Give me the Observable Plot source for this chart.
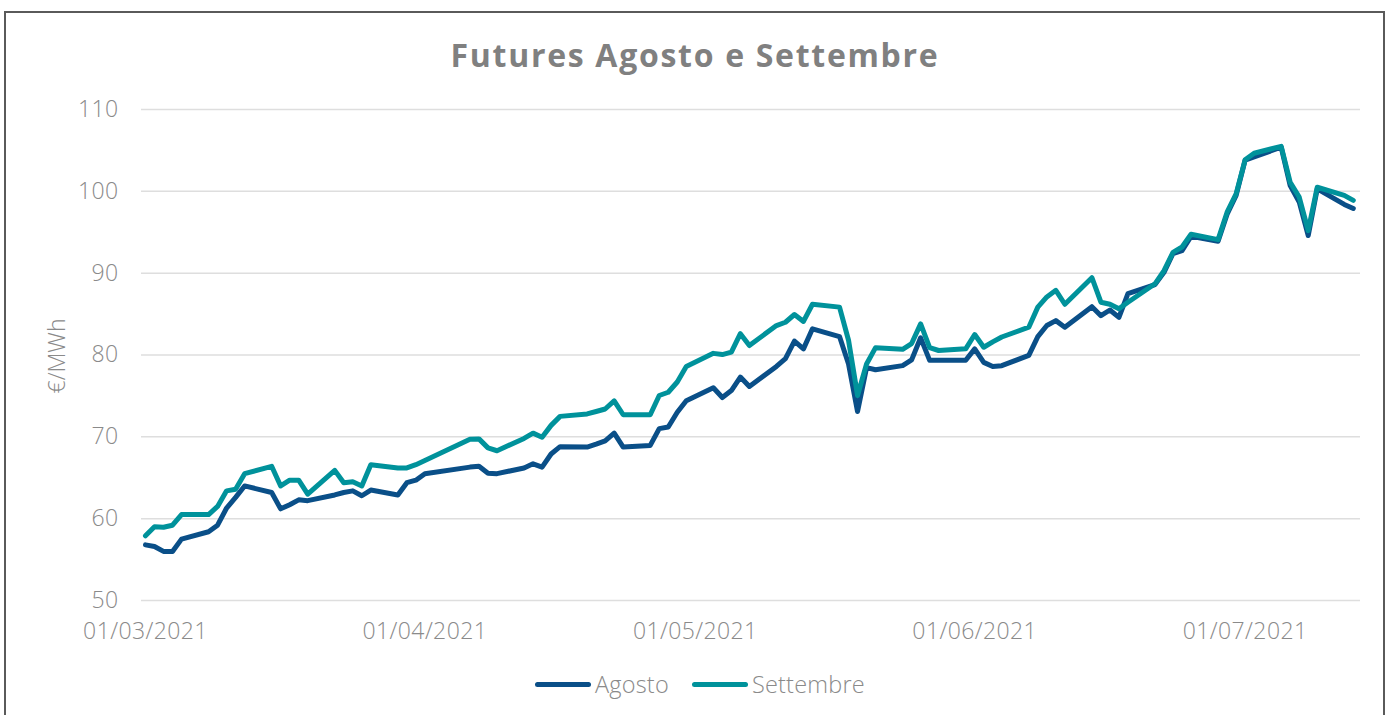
<!DOCTYPE html>
<html><head><meta charset="utf-8">
<script src="https://cdn.jsdelivr.net/npm/d3@7"></script>
<script src="https://cdn.jsdelivr.net/npm/@observablehq/plot@0.6"></script>
<style>
body{margin:0;background:#fff;overflow:hidden}
#wrap{position:relative;width:1390px;height:715px;font-family:"Open Sans",sans-serif;overflow:hidden}
#border{position:absolute;left:4px;top:11px;width:1381px;height:730px;border:2px solid #5a5a5a;box-sizing:border-box}
#title{position:absolute;left:0;width:1390px;top:33px;text-align:center;font-size:32px;font-weight:700;color:#808080;letter-spacing:1.7px;line-height:44px}
#chart{position:absolute;left:0;top:0}
#chart svg text{font-weight:300;letter-spacing:0.4px}
#ylabel{position:absolute;left:56px;top:356px;transform:translate(-50%,-50%) rotate(-90deg);font-size:23px;font-weight:300;color:#8a8a8a;white-space:nowrap}
#legend{position:absolute;top:669px;left:535px;display:flex;align-items:center;font-size:23.5px;font-weight:300;color:#8a8a8a;line-height:30px;letter-spacing:0.2px}
.sw{width:56px;height:5px;border-radius:3px;margin-right:4px}
.item{display:flex;align-items:center;margin-right:23px}
</style></head>
<body><div id="wrap"><div id="border"></div><div id="chart"></div><div id="title">Futures Agosto e Settembre</div><div id="ylabel">€/MWh</div><div id="legend"></div></div>
<script>
const seriesNames = ["Agosto", "Settembre"];
const seriesColors = ["#0a4f88", "#00929b"];
const yTicks = [50, 60, 70, 80, 90, 100, 110];
const xTicks = ["2021-03-01", "2021-04-01", "2021-05-01", "2021-06-01", "2021-07-01"];
const dates = [
 "2021-03-01","2021-03-02","2021-03-03","2021-03-04","2021-03-05",
 "2021-03-08","2021-03-09","2021-03-10","2021-03-11","2021-03-12",
 "2021-03-15","2021-03-16","2021-03-17","2021-03-18","2021-03-19",
 "2021-03-22","2021-03-23","2021-03-24","2021-03-25","2021-03-26",
 "2021-03-29","2021-03-30","2021-03-31","2021-04-01",
 "2021-04-06","2021-04-07","2021-04-08","2021-04-09",
 "2021-04-12","2021-04-13","2021-04-14","2021-04-15","2021-04-16",
 "2021-04-19","2021-04-20","2021-04-21","2021-04-22","2021-04-23",
 "2021-04-26","2021-04-27","2021-04-28","2021-04-29","2021-04-30",
 "2021-05-03","2021-05-04","2021-05-05","2021-05-06","2021-05-07",
 "2021-05-10","2021-05-11","2021-05-12","2021-05-13","2021-05-14",
 "2021-05-17","2021-05-18","2021-05-19","2021-05-20","2021-05-21",
 "2021-05-24","2021-05-25","2021-05-26","2021-05-27","2021-05-28",
 "2021-05-31","2021-06-01","2021-06-02","2021-06-03","2021-06-04",
 "2021-06-07","2021-06-08","2021-06-09","2021-06-10","2021-06-11",
 "2021-06-14","2021-06-15","2021-06-16","2021-06-17","2021-06-18",
 "2021-06-21","2021-06-22","2021-06-23","2021-06-24","2021-06-25",
 "2021-06-28","2021-06-29","2021-06-30","2021-07-01","2021-07-02",
 "2021-07-05","2021-07-06","2021-07-07","2021-07-08","2021-07-09",
 "2021-07-12","2021-07-13"
];
const agosto = [
 56.8,56.6,56.0,56.0,57.5,
 58.4,59.2,61.3,62.6,64.0,
 63.2,61.2,61.7,62.3,62.2,
 62.9,63.2,63.4,62.8,63.5,
 62.9,64.4,64.7,65.5,
 66.3,66.4,65.55,65.5,
 66.2,66.7,66.3,67.9,68.8,
 68.75,69.1,69.5,70.45,68.75,
 68.95,71.0,71.2,73.0,74.4,
 76.0,74.8,75.65,77.3,76.15,
 78.6,79.55,81.7,80.75,83.2,
 82.25,78.9,73.1,78.45,78.2,
 78.7,79.4,82.1,79.35,79.35,
 79.35,80.75,79.1,78.6,78.7,
 79.95,82.25,83.6,84.2,83.4,
 85.9,84.8,85.5,84.6,87.5,
 88.6,90.1,92.4,92.75,94.5,
 93.9,97.2,99.5,103.8,104.2,
 105.4,100.7,98.7,94.6,100.3,
 98.4,97.9
];
const settembre = [
 57.9,59.0,58.95,59.2,60.5,
 60.5,61.5,63.4,63.6,65.5,
 66.4,64.0,64.7,64.7,63.0,
 65.9,64.4,64.5,64.0,66.6,
 66.2,66.2,66.6,67.1,
 69.7,69.75,68.65,68.3,
 69.8,70.45,69.95,71.4,72.5,
 72.8,73.1,73.4,74.4,72.7,
 72.7,75.05,75.45,76.7,78.6,
 80.2,80.05,80.35,82.6,81.15,
 83.6,84.0,84.95,84.1,86.2,
 85.85,81.8,75.05,78.9,80.9,
 80.7,81.4,83.8,80.9,80.55,
 80.75,82.5,80.95,81.6,82.2,
 83.4,85.85,87.1,87.9,86.2,
 89.45,86.45,86.2,85.65,86.45,
 88.7,90.3,92.55,93.2,94.75,
 94.1,97.45,99.7,103.85,104.65,
 105.5,101.1,99.3,95.2,100.5,
 99.5,98.9
];

const rows = [];
dates.forEach((d, i) => rows.push({date: new Date(d), value: agosto[i], serie: seriesNames[0]}));
dates.forEach((d, i) => rows.push({date: new Date(d), value: settembre[i], serie: seriesNames[1]}));

const chart = Plot.plot({
  width: 1390, height: 650,
  marginLeft: 141, marginRight: 30, marginTop: 109, marginBottom: 50,
  x: {type: "utc", domain: [new Date("2021-02-28T13:26Z"), new Date("2021-07-13T19:12Z")]},
  y: {domain: [50, 110]},
  color: {domain: seriesNames, range: seriesColors},
  style: {fontFamily: "Open Sans, sans-serif", fontSize: "23px", color: "#8a8a8a", background: "transparent", overflow: "visible"},
  marks: [
    Plot.gridY(yTicks, {stroke: "#dedede", strokeOpacity: 1, strokeWidth: 1.5}),
    Plot.axisY(yTicks, {tickSize: 0, tickPadding: 23, label: null}),
    Plot.axisX(xTicks.map(d => new Date(d)), {tickSize: 0, tickPadding: 22, label: null, tickFormat: d3.utcFormat("%d/%m/%Y")}),
    Plot.line(rows, {x: "date", y: "value", z: "serie", stroke: "serie", strokeWidth: 5, strokeLinejoin: "round", strokeLinecap: "round"})
  ]
});
document.getElementById("chart").appendChild(chart);

const legend = document.getElementById("legend");
seriesNames.forEach((n, i) => {
  const it = document.createElement("div"); it.className = "item";
  const sw = document.createElement("div"); sw.className = "sw"; sw.style.background = seriesColors[i];
  const tx = document.createElement("span"); tx.textContent = n;
  it.appendChild(sw); it.appendChild(tx); legend.appendChild(it);
});
</script></body></html>
